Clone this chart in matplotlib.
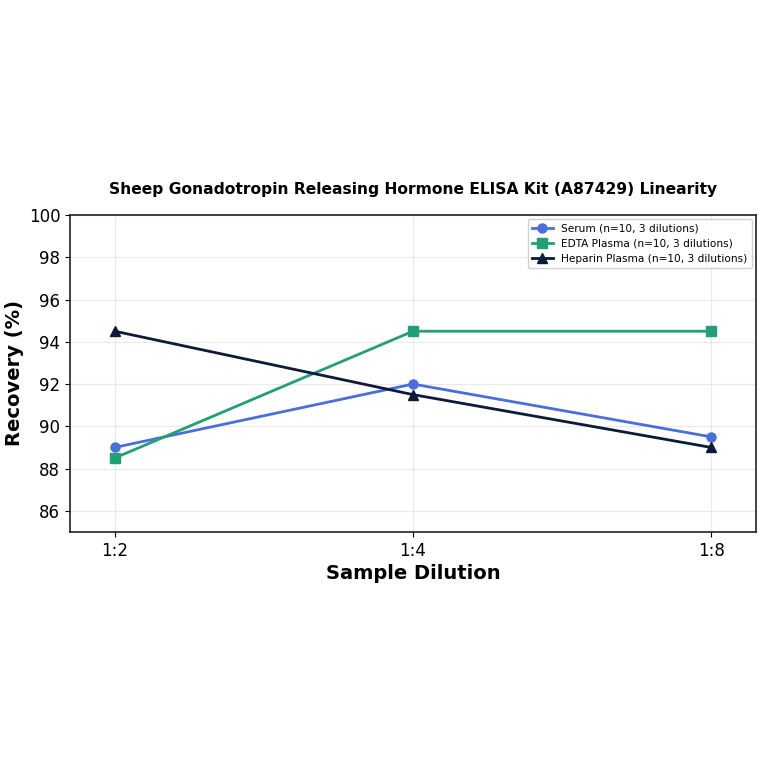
import numpy as np
import matplotlib
matplotlib.use("Agg")
import matplotlib.pyplot as plt

dilutions = ["1:2", "1:4", "1:8"]
serum = [89.0, 92.0, 89.5]
edta = [88.5, 94.5, 94.5]
heparin = [94.5, 91.5, 89.0]

fig = plt.figure(figsize=(7.64, 7.64), dpi=100)
ax = fig.add_axes([0.0916, 0.3037, 0.8979, 0.4149])

x = np.arange(len(dilutions))
ax.plot(x, serum, marker="o", color="#4a6fdc", lw=2, ms=6.5, label="Serum (n=10, 3 dilutions)")
ax.plot(x, edta, marker="s", color="#239e76", lw=2, ms=6.5, label="EDTA Plasma (n=10, 3 dilutions)")
ax.plot(x, heparin, marker="^", color="#0e1a3a", lw=2, ms=6.5, label="Heparin Plasma (n=10, 3 dilutions)")

ax.set_xticks(x)
ax.set_xticklabels(dilutions)
ax.set_xlim(-0.15, 2.15)
ax.set_ylim(85, 100)
ax.set_yticks(np.arange(86, 101, 2))
ax.tick_params(labelsize=12)
ax.grid(True, color="#dddddd", alpha=0.6, lw=0.8)
for s in ax.spines.values():
    s.set_linewidth(1.2)
    s.set_color("#222222")

ax.set_title("Sheep Gonadotropin Releasing Hormone ELISA Kit (A87429) Linearity",
             fontsize=11.2, fontweight="bold", pad=15)
ax.set_xlabel("Sample Dilution", fontsize=14, fontweight="bold", labelpad=3)
ax.set_ylabel("Recovery (%)", fontsize=14, fontweight="bold", labelpad=3)
ax.legend(loc="upper right", fontsize=7.6, framealpha=0.9, borderaxespad=0.4)

fig.savefig("out.png", dpi=100)
